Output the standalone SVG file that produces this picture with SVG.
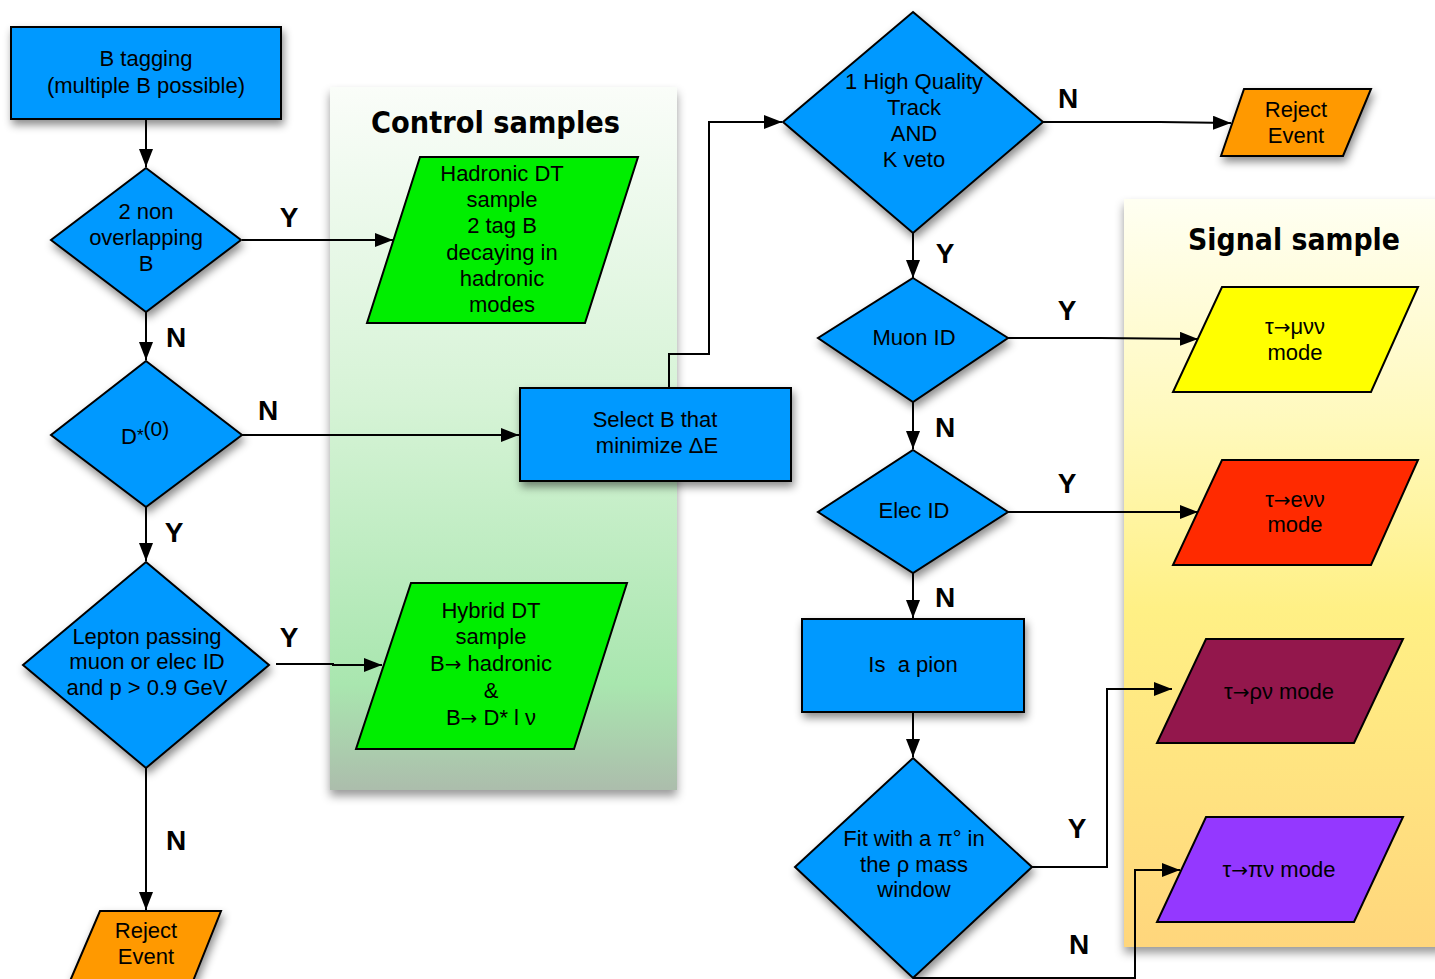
<svg xmlns="http://www.w3.org/2000/svg" width="1435" height="979" viewBox="0 0 1435 979">
<defs>
<filter id="sh" x="-20%" y="-20%" width="150%" height="150%"><feDropShadow dx="2" dy="5" stdDeviation="4" flood-color="#000" flood-opacity="0.45"/></filter>
<filter id="psh" x="-10%" y="-10%" width="120%" height="120%"><feDropShadow dx="0" dy="6" stdDeviation="5" flood-color="#000" flood-opacity="0.4"/></filter>
<linearGradient id="gCtrl" x1="0" y1="0" x2="0" y2="1">
<stop offset="0" stop-color="#FAFDF9"/>
<stop offset="0.45" stop-color="#D6F3D6"/>
<stop offset="0.85" stop-color="#A9E6AF"/>
<stop offset="1" stop-color="#ACBDAC"/>
</linearGradient>
<linearGradient id="gSig" x1="0" y1="0" x2="0" y2="1">
<stop offset="0" stop-color="#FFFFF2"/>
<stop offset="0.3" stop-color="#FFF9BC"/>
<stop offset="0.55" stop-color="#FFF085"/>
<stop offset="1" stop-color="#FFD67C"/>
</linearGradient>
<marker id="ar" markerUnits="userSpaceOnUse" markerWidth="18" markerHeight="14" refX="18" refY="7" orient="auto"><path d="M0,0 L18,7 L0,14 z" fill="#000"/></marker>
<style>
.blue{fill:#0099FF;stroke:#000;stroke-width:2;filter:url(#sh)}
.green{fill:#00EE00;stroke:#000;stroke-width:2}
.orange{fill:#FF9900;stroke:#000;stroke-width:2;filter:url(#sh)}
.t{font-family:"Liberation Sans",Arial,sans-serif;font-size:22px;fill:#000;text-anchor:middle}
.arw{font-family:"DejaVu Sans",sans-serif;font-size:20px}
.lbl{font-family:"Liberation Sans",Arial,sans-serif;font-size:28px;font-weight:bold;fill:#000;text-anchor:middle}
.title{font-family:"DejaVu Sans",sans-serif;font-size:30px;font-weight:bold;fill:#000}
.c{fill:none;stroke:#000;stroke-width:2;marker-end:url(#ar)}
</style>
</defs>
<rect width="1435" height="979" fill="#fff"/>

<g id="panel-control">
<rect x="330" y="87" width="347" height="703" fill="url(#gCtrl)" filter="url(#psh)"/>
<text class="title" x="371" y="133" textLength="249" lengthAdjust="spacingAndGlyphs">Control samples</text>
</g>
<g id="panel-signal">
<rect x="1124" y="199" width="320" height="748" fill="url(#gSig)" filter="url(#psh)"/>
<text class="title" x="1188" y="250" textLength="212" lengthAdjust="spacingAndGlyphs">Signal sample</text>
</g>

<g id="connectors">
<path class="c" d="M146,119 V167"/>
<path class="c" d="M242,240 H393"/>
<path class="c" d="M146,312 V360"/>
<path class="c" d="M242,435 H519"/>
<path class="c" d="M146,507 V561"/>
<path class="c" d="M276,664 H333 V665 H382"/>
<path class="c" d="M146,768 V910"/>
<path class="c" d="M669,387 V354 H709 V122 H782"/>
<path class="c" d="M1043,122 H1160 L1231,123"/>
<path class="c" d="M913,233 V278"/>
<path class="c" d="M1008,338 H1100 L1198,339"/>
<path class="c" d="M913,402 V449"/>
<path class="c" d="M1008,512 H1198"/>
<path class="c" d="M913,573 V618"/>
<path class="c" d="M913,712 V757"/>
<path class="c" d="M1032,867 H1107 V689 H1172"/>
<path class="c" d="M913,978 H1135 V870 H1180"/>
</g>

<g id="labels">
<text class="lbl" x="289" y="227">Y</text>
<text class="lbl" x="176" y="347">N</text>
<text class="lbl" x="268" y="420">N</text>
<text class="lbl" x="174" y="542">Y</text>
<text class="lbl" x="289" y="647">Y</text>
<text class="lbl" x="176" y="850">N</text>
<text class="lbl" x="1068" y="108">N</text>
<text class="lbl" x="945" y="263">Y</text>
<text class="lbl" x="1067" y="320">Y</text>
<text class="lbl" x="945" y="437">N</text>
<text class="lbl" x="1067" y="493">Y</text>
<text class="lbl" x="945" y="607">N</text>
<text class="lbl" x="1077" y="838">Y</text>
<text class="lbl" x="1079" y="954">N</text>
</g>

<g id="n-btag">
<rect class="blue" x="11" y="27" width="270" height="92"/>
<text class="t" x="146" y="66">B tagging</text>
<text class="t" x="146" y="93">(multiple B possible)</text>
</g>
<g id="n-2non">
<polygon class="blue" points="146,168 241,240 146,312 51,240"/>
<text class="t" x="146" y="219">2 non</text>
<text class="t" x="146" y="245">overlapping</text>
<text class="t" x="146" y="271">B</text>
</g>
<g id="n-dstar">
<polygon class="blue" points="146,361 242,435 146,507 51,435"/>
<text x="121" y="444" style="font-family:'Liberation Sans',Arial,sans-serif;font-size:22px;fill:#000">D<tspan font-size="17" dy="-3">*</tspan><tspan font-size="21" dy="-5">(0)</tspan></text>
</g>
<g id="n-lepton">
<polygon class="blue" points="146,562 269,665 146,768 23,665"/>
<text class="t" x="147" y="644">Lepton passing</text>
<text class="t" x="147" y="669">muon or elec ID</text>
<text class="t" x="147" y="695">and p &gt; 0.9 GeV</text>
</g>
<g id="n-reject1">
<polygon class="orange" points="100,911 221,911 193,981 70,981"/>
<text class="t" x="146" y="938">Reject</text>
<text class="t" x="146" y="964">Event</text>
</g>
<g id="n-hadronic">
<polygon class="green" points="420,157 638,157 585,323 367,323"/>
<text class="t" x="502" y="181">Hadronic DT</text>
<text class="t" x="502" y="207">sample</text>
<text class="t" x="502" y="233">2 tag B</text>
<text class="t" x="502" y="260">decaying in</text>
<text class="t" x="502" y="286">hadronic</text>
<text class="t" x="502" y="312">modes</text>
</g>
<g id="n-hybrid">
<polygon class="green" points="411,583 627,583 574,749 356,749"/>
<text class="t" x="491" y="618">Hybrid DT</text>
<text class="t" x="491" y="644">sample</text>
<text class="t" x="491" y="671">B<tspan class="arw">→</tspan> hadronic</text>
<text class="t" x="491" y="698">&amp;</text>
<text class="t" x="491" y="725">B<tspan class="arw">→</tspan> D* l ν</text>
</g>
<g id="n-select">
<rect class="blue" x="520" y="388" width="271" height="93"/>
<text class="t" x="655" y="427">Select B that</text>
<text class="t" x="657" y="453">minimize ΔE</text>
</g>
<g id="n-hq">
<polygon class="blue" points="913,12 1043,122 913,233 783,122"/>
<text class="t" x="914" y="89">1 High Quality</text>
<text class="t" x="914" y="115">Track</text>
<text class="t" x="914" y="141">AND</text>
<text class="t" x="914" y="167">K veto</text>
</g>
<g id="n-reject2">
<polygon class="orange" points="1244,89 1371,89 1343,156 1221,156"/>
<text class="t" x="1296" y="117">Reject</text>
<text class="t" x="1296" y="143">Event</text>
</g>
<g id="n-muon">
<polygon class="blue" points="913,278 1008,338 913,402 818,338"/>
<text class="t" x="914" y="345">Muon ID</text>
</g>
<g id="n-elec">
<polygon class="blue" points="913,450 1008,512 913,573 818,512"/>
<text class="t" x="914" y="518">Elec ID</text>
</g>
<g id="n-pion">
<rect class="blue" x="802" y="619" width="222" height="93"/>
<text class="t" x="913" y="672" xml:space="preserve">Is  a pion</text>
</g>
<g id="n-fit">
<polygon class="blue" points="913,758 1032,867 913,978 795,867"/>
<text class="t" x="914" y="846">Fit with a π° in</text>
<text class="t" x="914" y="872">the ρ mass</text>
<text class="t" x="914" y="897">window</text>
</g>
<g id="n-mu">
<polygon points="1222,287 1418,287 1371,392 1173,392" fill="#FFFF00" stroke="#000" stroke-width="2"/>
<text class="t" x="1295" y="334">τ<tspan class="arw">→</tspan>μνν</text>
<text class="t" x="1295" y="360">mode</text>
</g>
<g id="n-e">
<polygon points="1222,460 1418,460 1371,565 1173,565" fill="#FF2A00" stroke="#000" stroke-width="2"/>
<text class="t" x="1295" y="507">τ<tspan class="arw">→</tspan>eνν</text>
<text class="t" x="1295" y="532">mode</text>
</g>
<g id="n-rho">
<polygon points="1206,639 1403,639 1354,743 1157,743" fill="#93174C" stroke="#000" stroke-width="2"/>
<text class="t" x="1279" y="699">τ<tspan class="arw">→</tspan>ρν mode</text>
</g>
<g id="n-pi">
<polygon points="1206,817 1403,817 1354,922 1157,922" fill="#9438FF" stroke="#000" stroke-width="2"/>
<text class="t" x="1279" y="877">τ<tspan class="arw">→</tspan>πν mode</text>
</g>
</svg>
